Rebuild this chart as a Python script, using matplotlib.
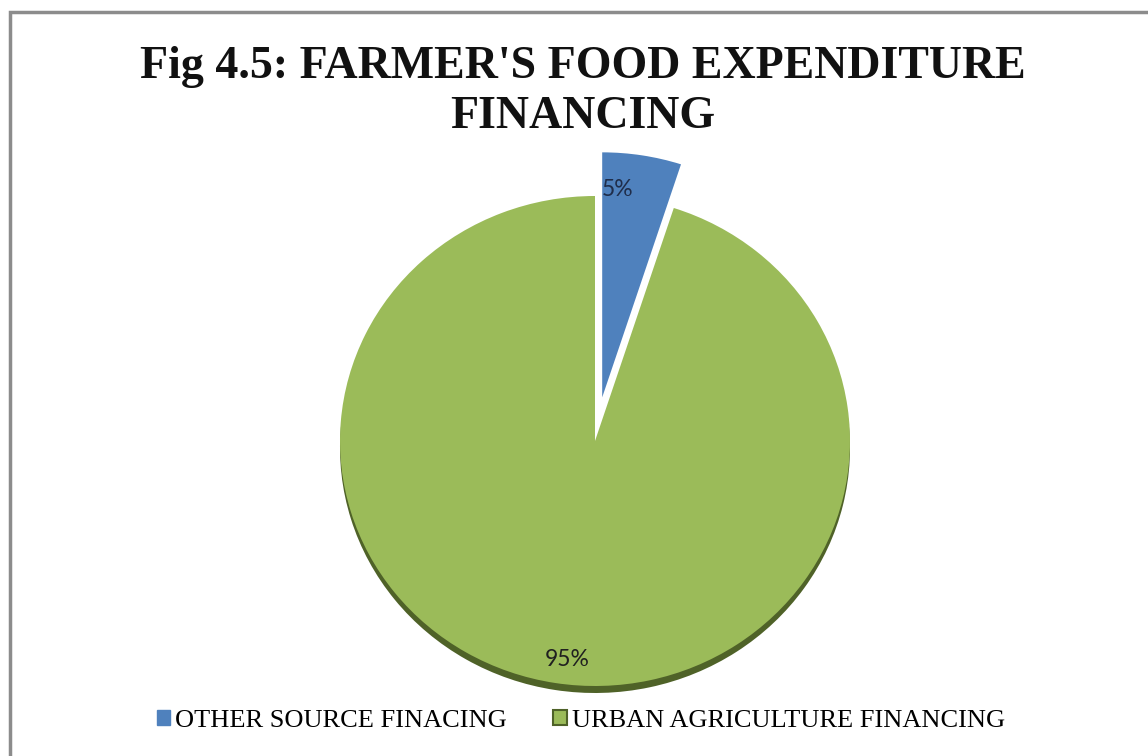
import matplotlib
matplotlib.use('Agg')
import matplotlib.pyplot as plt
from matplotlib.patches import Patch, Rectangle

# --- data --- #
labels = ['OTHER SOURCE FINACING', 'URBAN AGRICULTURE FINANCING']
shares = [5, 95]
colors = ['#4F81BD', '#9BBB59']
title_lines = ["Fig 4.5: FARMER'S FOOD EXPENDITURE", 'FINANCING']

W, H = 1148, 756
rx, ry = 255.0, 245.0          # pie looks slightly squashed
cx, cy = 595.0, 441.0          # pie centre in pixels (from top)
yk = rx / ry
pull = 46.0                    # explode distance of the blue slice (data units)

def pt(px, py):
    # pixel position (y from top) -> data coords of the full-figure axes
    return px, (H - py) * yk

fig = plt.figure(figsize=(W / 100, H / 100), dpi=100)
ax = fig.add_axes([0, 0, 1, 1])

# shadow under the green slice
ax.pie(shares, colors=['none', '#4F6228'], startangle=90, counterclock=False,
       explode=[pull, 0], radius=rx, center=pt(cx, cy + 7),
       wedgeprops=dict(linewidth=0))

wedges, texts, autotexts = ax.pie(
    shares, colors=colors, startangle=90, counterclock=False,
    explode=[pull, 0], radius=rx, center=pt(cx, cy),
    autopct='%1.0f%%', pctdistance=0.88,
    wedgeprops=dict(linewidth=0),
    textprops=dict(fontsize=16.5, family='Lato', color='#202020'))
autotexts[0].set_color('#1F2D4A')

# Excel puts the labels a little off the bisector; nudge them (pixels)
for t, (dx, dy) in zip(autotexts, [(-20, 5), (7, 6)]):
    x, y = t.get_position()
    t.set_position((x + dx, y - dy * yk))

ax.set_aspect('auto')
ax.set_xlim(0, W)
ax.set_ylim(0, H * yk)
ax.axis('off')

# title, two lines in bold serif
for i, line in enumerate(title_lines):
    fig.text(583 / W, 1 - (78 + 50 * i) / H, line, ha='center', va='baseline',
             fontsize=33, fontweight='bold', family='Liberation Serif',
             color='#111111')

handles = [Patch(facecolor=colors[0], edgecolor=colors[0]),
           Patch(facecolor=colors[1], edgecolor='#4F6228', linewidth=1.5)]
fig.legend(handles, labels, loc='center', bbox_to_anchor=(581 / W, 1 - 721 / H),
           ncol=2, frameon=False, handlelength=0.5, handleheight=0.5,
           handletextpad=0.2, columnspacing=1.75,
           prop=dict(family='Liberation Serif', size=19))

# chart border (runs off the right and bottom of the picture)
fig.patches.append(Rectangle((10 / W, -0.1), 2.0, 1.1 - 12 / H,
                             transform=fig.transFigure, fill=False,
                             edgecolor='#8c8c8c', linewidth=2.5))

fig.savefig('out.png', dpi=100)
